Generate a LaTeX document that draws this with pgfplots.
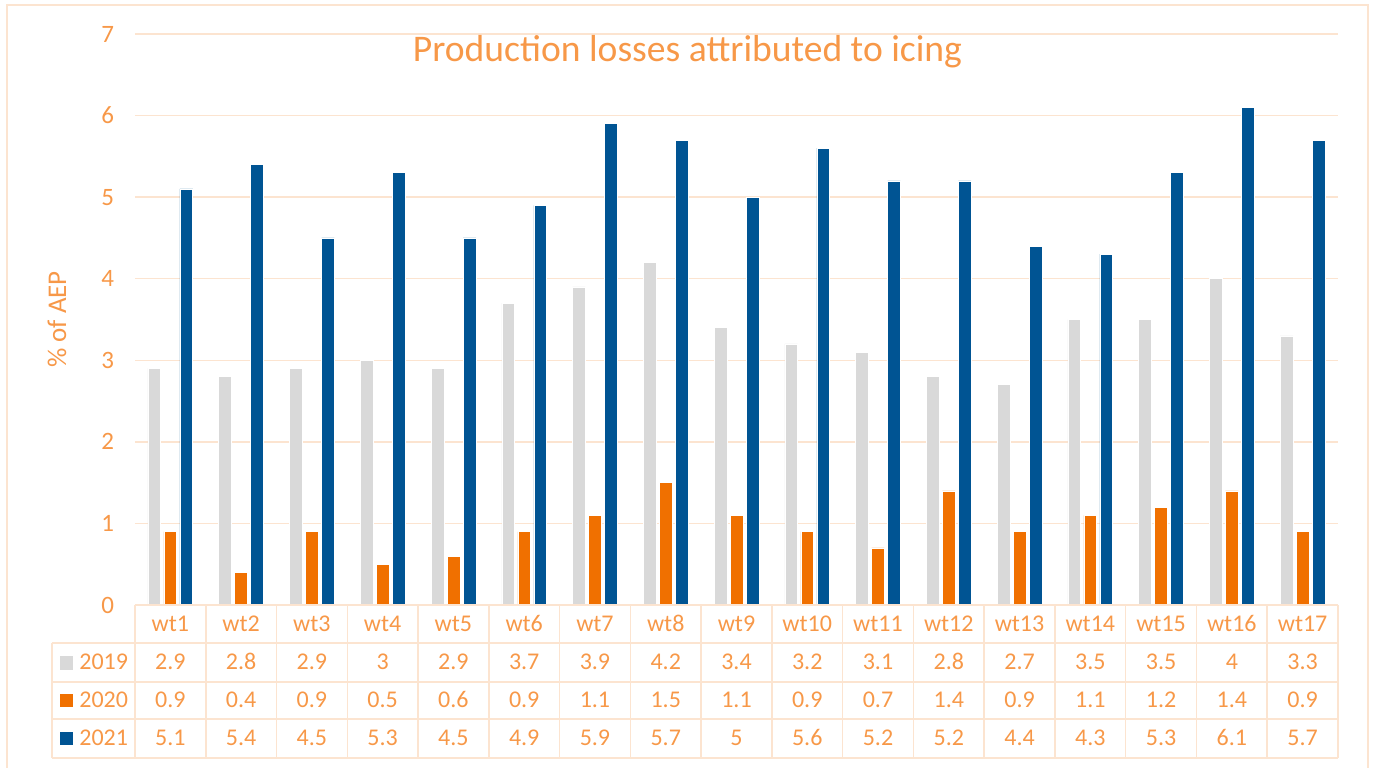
\documentclass[border=0pt]{standalone}
\usepackage{pgfplots}
\usepackage{pgfplotstable}
\pgfplotsset{compat=1.18}
\usepackage{fontspec}
\setmainfont{Carlito}

\definecolor{txt}{RGB}{247,152,72}
\definecolor{gridc}{RGB}{252,228,208}
\definecolor{c19}{RGB}{217,217,217}
\definecolor{c20}{RGB}{240,112,0}
\definecolor{c21}{RGB}{0,84,147}

% Icing losses per turbine, % of AEP
\pgfplotstableread{
wt y19 y20 y21
wt1 2.9 0.9 5.1
wt2 2.8 0.4 5.4
wt3 2.9 0.9 4.5
wt4 3 0.5 5.3
wt5 2.9 0.6 4.5
wt6 3.7 0.9 4.9
wt7 3.9 1.1 5.9
wt8 4.2 1.5 5.7
wt9 3.4 1.1 5
wt10 3.2 0.9 5.6
wt11 3.1 0.7 5.2
wt12 2.8 1.4 5.2
wt13 2.7 0.9 4.4
wt14 3.5 1.1 4.3
wt15 3.5 1.2 5.3
wt16 4 1.4 6.1
wt17 3.3 0.9 5.7
}\data

\def\cw{35.382}   % column width of the data table (pt)

\begin{document}
\begin{tikzpicture}[x=1pt,y=1pt]
\useasboundingbox (-67.5,-81) rectangle (619,302.5);
% chart area frame
\draw[gridc, line width=0.75pt] (-64,-90) rectangle (616.5,300);

\begin{axis}[
  at={(0,0)}, anchor=south west,
  width=601.5pt, height=285.5pt, scale only axis,
  xmin=-0.5, xmax=16.5, ymin=0, ymax=7,
  ytick={0,...,7}, xtick=\empty,
  axis line style={draw=none},
  major tick length=0pt,
  ymajorgrids,
  grid style={gridc, line width=0.75pt},
  /pgf/number format/assume math mode=true,
  yticklabel style={txt, font=\fontsize{12.5}{15}\selectfont, xshift=-7pt},
  clip=false,
]
\addplot[ybar, bar width=6.4pt, bar shift=-8pt, fill=c19, draw=white, line width=0.3pt]
  table[x expr=\coordindex, y=y19]{\data};
\addplot[ybar, bar width=6.4pt, bar shift=0pt, fill=c20, draw=white, line width=0.3pt]
  table[x expr=\coordindex, y=y20]{\data};
\addplot[ybar, bar width=6.4pt, bar shift=8pt, fill=c21, draw=white, line width=0.3pt]
  table[x expr=\coordindex, y=y21]{\data};
\end{axis}

% title and axis label
\node[txt, anchor=base, font=\fontsize{18.8}{22}\selectfont] at (276.25,271.5)
  {Production losses attributed to icing};
\node[txt, rotate=90, font=\fontsize{13.5}{16}\selectfont] at (-39,142.75) {\% of AEP};

% data table grid
\begin{scope}[gridc, line width=0.75pt]
  \draw (0,0) -- (601.5,0);
  \foreach \yy in {-19,-38.5,-57,-76.5} \draw (-41.5,\yy) -- (601.5,\yy);
  \foreach \k in {0,...,17} \draw ({\k*\cw},0) -- ({\k*\cw},-76.5);
  \draw (-41.5,-19) -- (-41.5,-76.5);
\end{scope}

% legend keys
\fill[c19] (-37.5,-32.25) rectangle (-30.75,-25.5);
\fill[c20] (-37.5,-51) rectangle (-30.75,-44.25);
\fill[c21] (-37.5,-70) rectangle (-30.75,-63.25);
\begin{scope}[font=\fontsize{12}{14}\selectfont, text=txt]
  \node[anchor=base west, inner sep=0pt] at (-28,-32.2) {2019};
  \node[anchor=base west, inner sep=0pt] at (-28,-51.3) {2020};
  \node[anchor=base west, inner sep=0pt] at (-28,-70.3) {2021};
  \foreach \k in {0,...,16} {
    \pgfplotstablegetelem{\k}{wt}\of\data
    \node[anchor=base, inner sep=0pt] at ({(\k+0.5)*\cw},-13.3) {\pgfplotsretval};
    \pgfplotstablegetelem{\k}{y19}\of\data
    \node[anchor=base, inner sep=0pt] at ({(\k+0.5)*\cw},-32.2) {\pgfplotsretval};
    \pgfplotstablegetelem{\k}{y20}\of\data
    \node[anchor=base, inner sep=0pt] at ({(\k+0.5)*\cw},-51.3) {\pgfplotsretval};
    \pgfplotstablegetelem{\k}{y21}\of\data
    \node[anchor=base, inner sep=0pt] at ({(\k+0.5)*\cw},-70.3) {\pgfplotsretval};
  }
\end{scope}
\end{tikzpicture}
\end{document}
